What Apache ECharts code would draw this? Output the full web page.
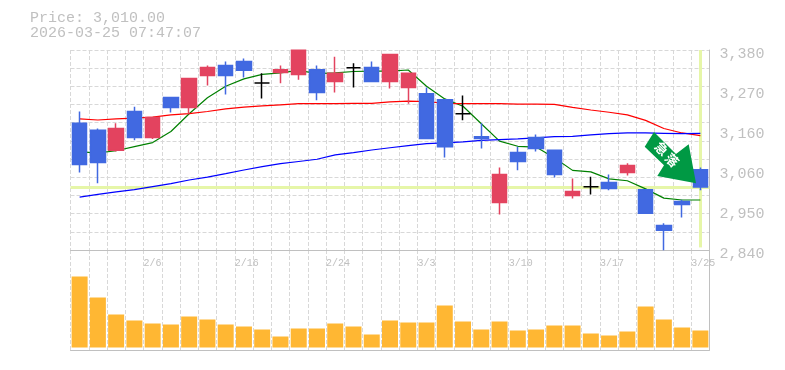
<!DOCTYPE html>
<html>
<head>
<meta charset="utf-8">
<style>html,body{margin:0;padding:0;background:#fff}#c{width:785px;height:370px}</style>
<script src="https://cdn.jsdelivr.net/npm/echarts@6/dist/echarts.min.js"></script>
</head>
<body>
<div id="c"></div>
<script>
const titleLines = ['Price: 3,010.00', '2026-03-25 07:47:07'];
const categories = ['2/2','2/3','2/4','2/5','2/6','2/9','2/10','2/12','2/13','2/16','2/17','2/18','2/19','2/20','2/24','2/25','2/26','2/27','3/2','3/3','3/4','3/5','3/6','3/9','3/10','3/11','3/12','3/13','3/16','3/17','3/18','3/19','3/23','3/24','3/25'];
const shownDates = ['2/6','2/16','2/24','3/3','3/10','3/17','3/25'];
const opens  = [3182,3163,3109,3214,3144,3252,3225,3311,3338,3349,3291,3319,3314,3327,3295,3332,3333,3295,3279,3262,3246,3208,3146,2968,3103,3144,3109,2987,3011,3022,3049,3003,2906,2971,3057];
const closes = [3071,3076,3168,3144,3198,3225,3303,3333,3311,3325,3291,3327,3379,3265,3317,3332,3295,3368,3317,3141,3119,3208,3141,3044,3079,3114,3044,2998,3011,3006,3068,2939,2893,2963,3010];
const lows   = [3049,3020,3106,3136,3140,3211,3208,3284,3260,3306,3249,3290,3300,3244,3265,3279,3295,3276,3235,3141,3090,3190,3114,2936,3055,3106,3036,2979,2990,3001,3041,2939,2839,2928,3001];
const highs  = [3214,3168,3182,3227,3200,3252,3303,3338,3349,3357,3317,3338,3379,3338,3362,3344,3349,3368,3317,3279,3246,3257,3182,3063,3119,3152,3109,3033,3038,3044,3074,3003,2912,2976,3063];
const maGreen = [3105,3102,3108,3119,3130,3160,3208,3251,3282,3302,3314,3318,3325,3316,3318,3322,3323,3323,3326,3282,3248,3228,3181,3134,3120,3118,3089,3055,3051,3032,3027,3005,2980,2975,2975];
const maRed   = [3194,3191,3194,3196,3199,3205,3208,3214,3221,3226,3229,3232,3235,3235,3235,3236,3236,3240,3242,3241,3236,3235,3235,3235,3234,3234,3233,3225,3218,3212,3205,3190,3168,3156,3149];
const maBlue  = [2983,2990,2997,3003,3011,3019,3029,3037,3046,3056,3065,3073,3079,3085,3097,3103,3110,3116,3122,3127,3129,3132,3136,3138,3140,3143,3146,3147,3151,3154,3156,3156,3155,3154,3155];
const volumes = [71,50,33,27,24,23,31,28,23,21,18,11,19,19,24,21,13,27,25,25,42,26,18,26,17,18,22,22,14,12,16,41,28,20,17];
const yTickValues = [2840,2948,3056,3164,3272,3380];
const yTickLabels = ['2,840','2,950','3,060','3,160','3,270','3,380'];
const currentPrice = 3010;
const arrowLabel = ['急', '落'];

const gray = '#c0c0c0', gridCol = '#d8d8d8', mono = '"Liberation Mono", monospace';
const candleData = categories.map((_, i) => [opens[i], closes[i], lows[i], highs[i]]);
// boundary axis: one slot per band edge, so labels start at the left edge of their band
const edges = categories.map(c => shownDates.includes(c) ? c : '').concat(['']);
const edgeKeys = edges.map((e, i) => i + '|' + e);
const dash = { color: gridCol, type: [4, 2], width: 1 };
const lineS = (name, data, color) => ({ name, type: 'line', data, xAxisIndex: 0, yAxisIndex: 0, symbol: 'none',
  lineStyle: { color, width: 1.2 }, itemStyle: { color }, z: 2, silent: true });

const chart = echarts.init(document.getElementById('c'), null, { renderer: 'canvas' });
chart.setOption({
  animation: false,
  backgroundColor: '#fff',
  title: { text: titleLines.join('\n'), left: 30, top: 11, padding: 0,
    textStyle: { color: gray, fontFamily: mono, fontSize: 15, fontWeight: 'normal', lineHeight: 15 } },
  grid: [
    { left: 70.5, width: 639, top: 50, height: 200 },
    { left: 70.5, width: 639, top: 250, height: 100 }
  ],
  xAxis: [
    { type: 'category', gridIndex: 0, data: categories, show: false },
    { type: 'category', gridIndex: 1, data: categories, show: false },
    { type: 'category', gridIndex: 0, data: edgeKeys, boundaryGap: false, position: 'bottom',
      axisLine: { onZero: false, lineStyle: { color: gray, width: 1 } }, axisTick: { show: false },
      splitLine: { show: true, interval: 0, lineStyle: dash },
      axisLabel: { show: true, interval: 0, align: 'left', margin: 8, color: gray, fontFamily: mono, fontSize: 10,
        formatter: v => v.split('|')[1] } },
    { type: 'category', gridIndex: 1, data: edgeKeys, boundaryGap: false, position: 'bottom',
      axisLine: { onZero: false, lineStyle: { color: gray, width: 1 } }, axisTick: { show: false },
      splitLine: { show: true, interval: 0, lineStyle: dash }, axisLabel: { show: false } }
  ],
  yAxis: [
    { type: 'value', gridIndex: 0, position: 'right', min: 2840, max: 3380, scale: true,
      axisLine: { show: true, lineStyle: { color: gray, width: 1 } }, axisTick: { show: false }, splitLine: { show: false },
      axisLabel: { show: true, customValues: yTickValues, margin: 10, color: gray, fontFamily: mono, fontSize: 15,
        verticalAlign: 'top', lineHeight: 8,
        formatter: v => yTickLabels[yTickValues.indexOf(v)] } },
    { type: 'value', gridIndex: 1, position: 'right', min: -2.5, max: 97.5,
      axisLine: { show: true, lineStyle: { color: gray, width: 1 } }, axisTick: { show: false },
      splitLine: { show: false }, axisLabel: { show: false } },
    { type: 'value', gridIndex: 0, position: 'left', min: 0, max: 11, interval: 1,
      axisLine: { show: false }, axisTick: { show: false }, axisLabel: { show: false },
      splitLine: { show: true, lineStyle: dash } }
  ],
  series: [
    { name: 'ref', type: 'line', xAxisIndex: 0, yAxisIndex: 0, data: [], z: 1, silent: true,
      markLine: { z: 1, silent: true, symbol: 'none', animation: false, label: { show: false },
        lineStyle: { color: '#e6f6a8', width: 3, type: 'solid' },
        data: [
          { yAxis: currentPrice },
          [{ xAxis: categories[34], yAxis: 2847 }, { xAxis: categories[34], yAxis: 3380 }]
        ] } },
    lineS('green', maGreen, '#008000'),
    lineS('red', maRed, '#ff0000'),
    lineS('blue', maBlue, '#0000ff'),
    { name: 'price', type: 'candlestick', xAxisIndex: 0, yAxisIndex: 0, data: candleData, barWidth: 15, z: 3, silent: true,
      itemStyle: { color: '#e3435f', color0: '#4169e1', borderColor: '#e3435f', borderColor0: '#4169e1', borderColorDoji: '#000000', borderWidth: 1.5 } },
    { name: 'volume', type: 'bar', xAxisIndex: 1, yAxisIndex: 1, data: volumes, barWidth: 16, z: 3, silent: true,
      itemStyle: { color: '#ffb733' } }
  ],
  graphic: [
    { type: 'polygon', z: 100, silent: true,
      shape: { points: [[654,132],[644.7,146.7],[664,165.3],[657.3,176],[696,183.3],[688.7,144.3],[676,154]] },
      style: { fill: '#009944' } },
    { type: 'text', z: 101, silent: true, x: 661.7, y: 148.7, rotation: -Math.PI / 4,
      style: { text: arrowLabel[0], fill: '#ffffff', align: 'center', verticalAlign: 'middle',
        font: 'bold 13px "Noto Sans CJK JP"' } },
    { type: 'text', z: 101, silent: true, x: 672, y: 160, rotation: -Math.PI / 4,
      style: { text: arrowLabel[1], fill: '#ffffff', align: 'center', verticalAlign: 'middle',
        font: 'bold 13px "Noto Sans CJK JP"' } }
  ]
});
</script>
</body>
</html>
